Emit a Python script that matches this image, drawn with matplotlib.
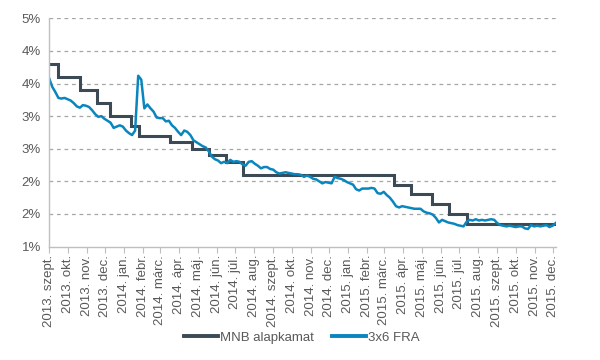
import numpy as np
import pandas as pd
import matplotlib
matplotlib.use("Agg")
import matplotlib.pyplot as plt

plt.rcParams["font.family"] = ["Liberation Sans", "DejaVu Sans"]

# MNB base rate (step changes, %)
mnb_dates = pd.to_datetime([
    "2013-09-09", "2013-09-24", "2013-10-29", "2013-11-26", "2013-12-17",
    "2014-01-21", "2014-02-03", "2014-03-25", "2014-04-29", "2014-05-27",
    "2014-06-24", "2014-07-22", "2015-03-24", "2015-04-21", "2015-05-26",
    "2015-06-23", "2015-07-21", "2015-12-14"])
mnb_rate = [3.8, 3.6, 3.4, 3.2, 3.0, 2.85, 2.7, 2.6, 2.5, 2.4, 2.3, 2.1,
            1.95, 1.8, 1.65, 1.5, 1.35, 1.35]

# 3x6 FRA (%), every 5 days from 2013-09-09
fra = [
    3.58, 3.45, 3.37, 3.28, 3.27, 3.28, 3.26, 3.24, 3.20, 3.15,
    3.13, 3.17, 3.16, 3.14, 3.09, 3.03, 2.99, 3.00, 2.96, 2.93,
    2.90, 2.82, 2.84, 2.86, 2.84, 2.78, 2.74, 2.71, 2.78, 3.62,
    3.56, 3.12, 3.18, 3.12, 3.07, 2.98, 2.97, 2.97, 2.92, 2.93,
    2.86, 2.82, 2.76, 2.71, 2.78, 2.76, 2.71, 2.63, 2.60, 2.57,
    2.54, 2.52, 2.46, 2.38, 2.34, 2.32, 2.28, 2.30, 2.28, 2.33,
    2.30, 2.31, 2.30, 2.26, 2.24, 2.30, 2.31, 2.27, 2.24, 2.20,
    2.22, 2.22, 2.19, 2.18, 2.14, 2.12, 2.13, 2.14, 2.13, 2.12,
    2.11, 2.11, 2.10, 2.07, 2.09, 2.07, 2.04, 2.03, 2.00, 1.97,
    1.99, 1.98, 1.97, 2.07, 2.05, 2.04, 2.02, 1.99, 1.97, 1.95,
    1.88, 1.86, 1.89, 1.89, 1.89, 1.90, 1.89, 1.82, 1.81, 1.84,
    1.79, 1.75, 1.69, 1.62, 1.60, 1.62, 1.61, 1.60, 1.59, 1.58,
    1.58, 1.58, 1.54, 1.52, 1.51, 1.49, 1.44, 1.37, 1.41, 1.39,
    1.37, 1.36, 1.35, 1.33, 1.32, 1.31, 1.38, 1.41, 1.40, 1.42,
    1.40, 1.41, 1.40, 1.41, 1.42, 1.41, 1.36, 1.33, 1.32, 1.31,
    1.32, 1.31, 1.30, 1.31, 1.31, 1.28, 1.27, 1.33, 1.31, 1.32,
    1.31, 1.32, 1.33, 1.30, 1.32, 1.36]
fra_dates = pd.date_range("2013-09-09", periods=len(fra), freq="5D")

month_labels = [
    "2013. szept.", "2013. okt.", "2013. nov.", "2013. dec.",
    "2014. jan.", "2014. febr.", "2014. márc.", "2014. ápr.", "2014. máj.",
    "2014. jún.", "2014. júl.", "2014. aug.", "2014. szept.", "2014. okt.",
    "2014. nov.", "2014. dec.", "2015. jan.", "2015. febr.", "2015. márc.",
    "2015. ápr.", "2015. máj.", "2015. jún.", "2015. júl.", "2015. aug.",
    "2015. szept.", "2015. okt.", "2015. nov.", "2015. dec."]
y_ticks = [1.0, 1.5, 2.0, 2.5, 3.0, 3.5, 4.0, 4.5]
y_labels = ["1%", "2%", "2%", "3%", "3%", "4%", "4%", "5%"]

C_MNB = "#3b4a55"
C_FRA = "#0a86bf"
C_TXT = "#595959"
C_AX = "#bfbfbf"

fig = plt.figure(figsize=(6.0, 3.6), dpi=100)
ax = fig.add_axes([0.082, 0.315, 0.845, 0.634])

ax.plot(mnb_dates, mnb_rate, drawstyle="steps-post", color=C_MNB, lw=2.2,
        label="MNB alapkamat", solid_joinstyle="miter")
ax.plot(fra_dates, fra, color=C_FRA, lw=1.8, label="3x6 FRA")

start = pd.Timestamp("2013-09-09")
ticks = [start + pd.DateOffset(months=k) for k in range(len(month_labels))]
ax.set_xlim(start, pd.Timestamp("2015-12-14"))
ax.set_xticks(ticks)
ax.set_xticklabels(month_labels, rotation=90, fontsize=9.5, color=C_TXT)
ax.set_ylim(1.0, 4.5)
ax.set_yticks(y_ticks)
ax.set_yticklabels(y_labels, fontsize=9.5, color=C_TXT)

for v in y_ticks[1:]:
    ax.axhline(v, color="#a6a6a6", lw=0.9, ls=(0, (3, 3)), zorder=0)

for s in ("top", "right"):
    ax.spines[s].set_visible(False)
for s in ("left", "bottom"):
    ax.spines[s].set_color(C_AX)
    ax.spines[s].set_linewidth(1.0)
ax.tick_params(axis="x", length=4, color=C_AX, pad=2)
ax.tick_params(axis="y", length=0, pad=6)

leg = fig.legend(loc="center", bbox_to_anchor=(0.503, 0.062), ncol=2,
                 frameon=False, fontsize=9.5, handlelength=2.6,
                 handletextpad=0.15, columnspacing=1.4, labelcolor=C_TXT)
for h in leg.get_lines():
    h.set_linewidth(2.8)

fig.savefig("out.png", dpi=100, facecolor="white")
